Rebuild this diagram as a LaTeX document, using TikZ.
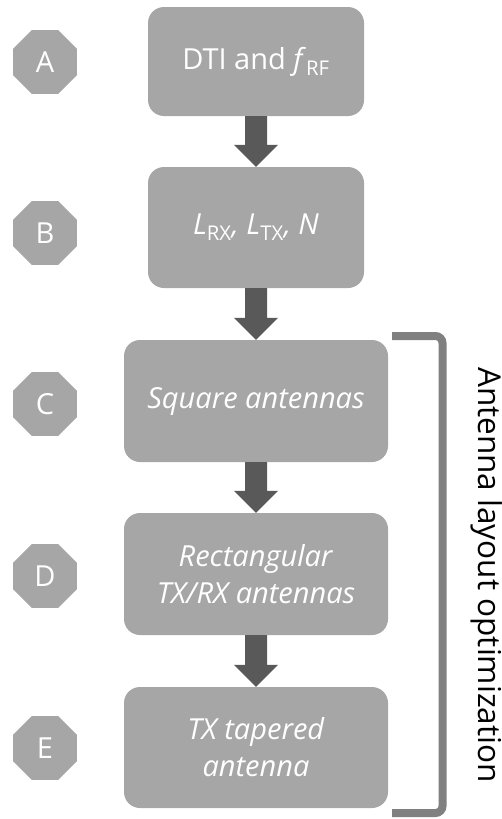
\documentclass[tikz,border=0pt]{standalone}
\usepackage{fontspec}
\setmainfont{Open Sans}
\usetikzlibrary{shapes.geometric,calc}
\definecolor{boxgray}{HTML}{A6A6A6}
\definecolor{arrowgray}{HTML}{595959}
\definecolor{brackgray}{HTML}{808080}
\newcommand\blockarrow[2]{%
  \fill[arrowgray] ($(#1.south)+(-11,0)$) -- ($(#2.north)+(-11,-22)$) -- ($(#2.north)+(-22,-22)$) -- (#2.north)
    -- ($(#2.north)+(22,-22)$) -- ($(#2.north)+(11,-22)$) -- ($(#1.south)+(11,0)$) -- cycle;}
\begin{document}
\begin{tikzpicture}[x=1pt,y=-1pt,
  stepbox/.style={draw=none,fill=boxgray,text=white,rounded corners=16pt,inner sep=0pt,
    align=center,font=\fontsize{29}{37}\selectfont},
  smallbox/.style={stepbox,minimum width=216pt},
  widebox/.style={stepbox,minimum width=264pt,minimum height=122pt},
  octa/.style={regular polygon,regular polygon sides=8,minimum size=69pt,inner sep=0pt,
    fill=boxgray,text=white,font=\fontsize{29}{34}\selectfont}]
\useasboundingbox (0,0) rectangle (501,819);
% boxes
\node[smallbox,minimum height=109pt] (A) at (256,61.5) {DTI and \textit{f}\textsubscript{RF}};
\node[smallbox,minimum height=121pt] (B) at (256,227.5) {\textit{L}\textsubscript{RX}\textit{, L}\textsubscript{TX}\textit{, N}};
\node[widebox] (C) at (256,401) {\textit{Square antennas}};
\node[widebox] (D) at (256,574) {\textit{Rectangular}\\\textit{TX/RX antennas}};
\node[widebox,minimum height=121pt] (E) at (256,747.5) {\textit{TX tapered}\\\textit{antenna}};
% octagons
\node[octa] (oA) at (45,62) {A};
\node[octa] (oB) at (45,233) {B};
\node[octa] (oC) at (45,404) {C};
\node[octa] (oD) at (45,576) {D};
\node[octa] (oE) at (45,748) {E};
% arrows
\blockarrow{A}{B}
\blockarrow{B}{C}
\blockarrow{C}{D}
\blockarrow{D}{E}
% bracket
\coordinate (b1) at (392,336);
\coordinate (b2) at (442.5,336);
\coordinate (b3) at (442.5,813);
\coordinate (b4) at (392,813);
\draw[brackgray,line width=8pt,rounded corners=7pt] (b1) -- (b2) -- (b3) -- (b4);
\node[rotate=-90,font=\fontsize{31.5}{36}\selectfont,inner sep=0pt] (lbl) at (486.5,575) {Antenna layout optimization};
\end{tikzpicture}
\end{document}
